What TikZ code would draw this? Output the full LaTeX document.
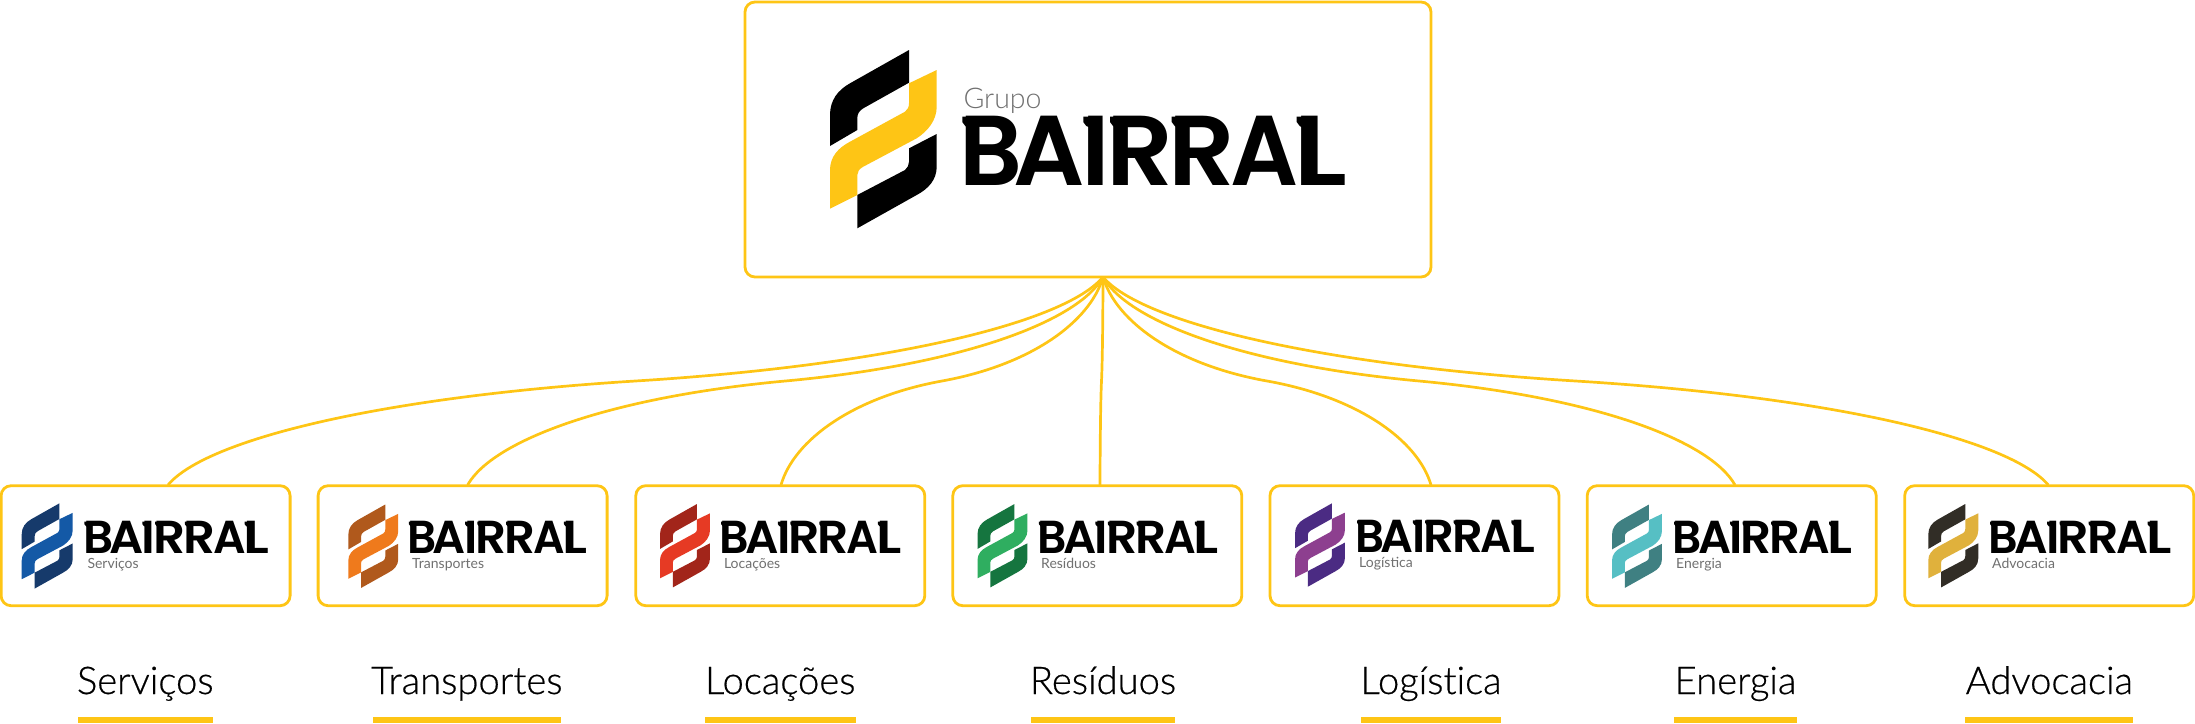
\documentclass[tikz,border=0pt]{standalone}
\usepackage{fontspec}
\usepackage{graphicx}
\setmainfont{Lato}
\newfontfamily\brandfont{Poppins SemiBold}
\newfontfamily\labelfont[Ligatures=NoCommon,FakeBold=0.5]{Lato Light}
\newfontfamily\grupofont[Ligatures=NoCommon]{Lato Light}
\definecolor{linkyellow}{HTML}{FEC515}
\definecolor{subgrey}{HTML}{707070}
\newcommand{\logomark}[5]{%
 \begin{scope}[shift={(#1,#2)},scale=#3]
  \fill[#4] (79,0) -- (79,32.7) -- (33.3,58.3) .. controls (29,61) and (27.3,64) .. (27.3,68.3) -- (27.3,80) -- (0,96) -- (0,65) .. controls (0,50) and (8,40) .. (20,33.3) -- cycle;
  \fill[#5] (106.7,20) -- (106.7,56.7) .. controls (106.7,70) and (98,81) .. (86.7,88.3) -- (33.3,116.7) .. controls (29,119) and (27.3,122) .. (27.3,125) -- (27.3,145) -- (0,158.7) -- (0,120) .. controls (0,107) and (8,98) .. (20,91.7) -- (75,61.7) .. controls (77.5,60) and (79,57) .. (79,53.3) -- (79,33.3) -- cycle;
  \fill[#4] (106.7,84) -- (106.7,116.7) .. controls (106.7,130) and (98,139) .. (86.7,145) -- (27.3,178.3) -- (27.3,145) -- (75,120) .. controls (77.5,118) and (79,115) .. (79,111.7) -- (79,98.3) -- cycle;
 \end{scope}}
\newcommand{\bl}[3]{\rlap{\kern#1pt\resizebox{#2pt}{69.3pt}{#3}}}
\newcommand{\brandword}{\hbox to 384pt{\brandfont%
 \bl{-3}{63}{B}\bl{51.5}{71.3}{A}\bl{119.5}{28.7}{I}\bl{143.9}{67}{R}\bl{206.4}{66.7}{R}\bl{268.3}{68}{A}\bl{331.5}{54}{L}\hfil}}
\newcommand{\brandflags}[4]{% x, baseline y, x scale, y scale
 \begin{scope}[shift={(#1,#2)},xscale=#3,yscale=#4]
  \foreach \fa/\fb in {0.3/6,121.3/129,148/154,209.7/216,334.7/341}{
    \fill[black] (\fa,-69.3) -- (\fb,-69.3) -- (\fb,-58) -- (\fa+3,-60) -- (\fa,-64) -- cycle;
  }
 \end{scope}}
\tikzset{
 card/.style={draw=linkyellow,line width=2.8pt,rounded corners=10pt,fill=white,minimum width=289pt,minimum height=120pt,inner sep=0pt},
 link/.style={draw=linkyellow,line width=2.7pt},
 brand/.style={anchor=south west,inner sep=0pt,text=black},
 subname/.style={anchor=base west,inner sep=0pt,text=subgrey},
 section/.style={anchor=base,inner sep=0pt,text=black},
 under/.style={fill=linkyellow},
}
\newcommand{\linkfrom}[2]{% end x, index
 \pgfmathsetmacro{\ex}{#1}
 \pgfmathsetmacro{\mx}{(1103+\ex)/2}
 \pgfmathsetmacro{\dd}{1103-\mx}
 \coordinate (m#2) at (\mx,381);
 \draw[link] (hub) .. controls ({1103-.08*\dd},322) and ({\mx+.55*\dd},365) .. (m#2)
   .. controls ({\mx-.55*\dd},397) and ({\ex+.08*\dd},440) .. (e#2);
}
\begin{document}
\begin{tikzpicture}[x=1pt,y=-1pt]
\useasboundingbox (0,0) rectangle (2195,723);
\node[card,minimum width=686pt,minimum height=275pt] (main) at (1088,139.5) {};
\coordinate (hub) at (1103,277);
\foreach \n/\cx in {1/145.6,2/462.6,3/780.3,4/1097.3,5/1414.5,6/1731.7,7/2049.2}{
  \node[card] (b\n) at (\cx,545.7) {};
}
\coordinate (e1) at (168,485);
\coordinate (e2) at (467.6,485);
\coordinate (e3) at (781,485);
\coordinate (e4) at (1100,485);
\coordinate (e5) at (1431,485);
\coordinate (e6) at (1735,485);
\coordinate (e7) at (2048.3,485);
\linkfrom{168}{1}
\linkfrom{467.6}{2}
\linkfrom{781}{3}
\linkfrom{1100}{4}
\linkfrom{1431}{5}
\linkfrom{1735}{6}
\linkfrom{2048.3}{7}
\logomark{830}{50}{1}{black}{linkyellow}
\node[subname] (grupo) at (963.3,108) {\fontsize{28.5}{32}\selectfont\grupofont Grupo};
\node[brand] (brandmain) at (962,186) {\brandword};
\brandflags{962}{186}{1}{1}
\foreach \n/\ox/\oy/\sc/\tx/\tw/\by/\sx/\dark/\light/\sub in {
 1/21.7/503.3/0.478/84.3/184/554/87.3/163A6B/1459A6/Serviços,
 2/348.3/504.5/0.468/408.8/178/554/412/B0591C/EF7A1C/Transportes,
 3/660/504/0.468/721/180/554/723.8/A2251A/E63A24/Locações,
 4/977.5/504/0.468/1038.8/179/554/1041/15753F/2FAE60/Resíduos,
 5/1295/503.3/0.468/1357/177/552.7/1359/4B2B83/8D3F8F/Logística,
 6/1612/504.5/0.468/1674/178/554/1676/3F8082/56BFC4/Energia,
 7/1928.3/504/0.468/1990/180.7/554/1992/312D26/E0B13C/Advocacia}{
  \definecolor{dk}{HTML}{\dark}\definecolor{lt}{HTML}{\light}
  \logomark{\ox}{\oy}{\sc}{dk}{lt}
  \node[brand] (bn\n) at (\tx,\by) {\resizebox{\tw pt}{32.3pt}{\brandword}};
  \pgfmathsetmacro{\fx}{\tw/384}
  \brandflags{\tx}{\by}{\fx}{0.466}
  \node[subname] (sn\n) at (\sx,\by+14.3) {\fontsize{14}{16}\selectfont\sub};
}
\foreach \n/\a/\b/\t in {
 1/77.5/213/Serviços,
 2/372.5/561/Transportes,
 3/705/855.5/Locações,
 4/1031/1175/Resíduos,
 5/1361/1501/Logística,
 6/1674.3/1796.7/Energia,
 7/1965.3/2133.3/Advocacia}{
  \node[section] (lab\n) at ({(\a+\b)/2},694) {\fontsize{38.2}{40}\selectfont\labelfont\t};
  \fill[under] (\a,716.7) rectangle (\b,722.7);
}
\end{tikzpicture}
\end{document}
